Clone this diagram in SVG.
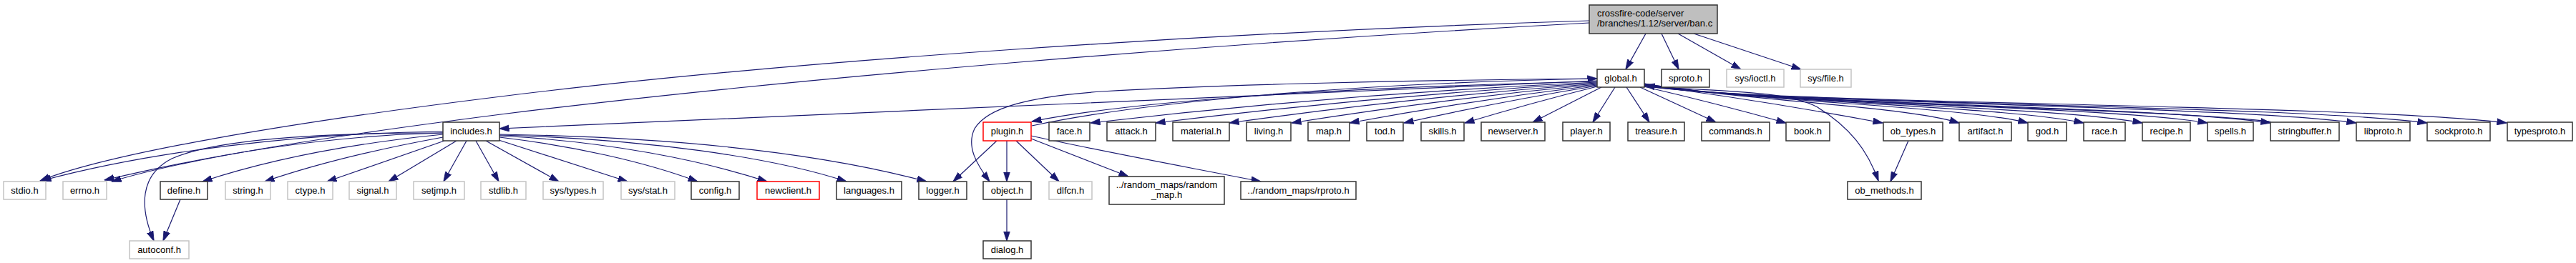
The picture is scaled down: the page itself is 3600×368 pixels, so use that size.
<svg xmlns="http://www.w3.org/2000/svg" width="3600" height="368" viewBox="0 0 3600 368">
<style>
.e{fill:none;stroke:#191970;stroke-width:1.2;marker-end:url(#ah)}
.n rect{fill:#fff;stroke:#333;stroke-width:1.5}
.g rect{fill:#fff;stroke:#c4c4c4;stroke-width:1.5}
.r rect{fill:#fff;stroke:#ff0000;stroke-width:1.5}
.m rect{fill:#bfbfbf;stroke:#333;stroke-width:1.5}
text{font-family:"Liberation Sans",Arial,Helvetica,sans-serif;font-size:13px;fill:#000;text-anchor:middle}
.m text{text-anchor:start}
</style>
<defs>
<marker id="ah" viewBox="0 0 14 10" refX="13.5" refY="5" markerWidth="14" markerHeight="10" markerUnits="userSpaceOnUse" orient="auto">
<path d="M0,0.5 L14,5 L0,9.5 z" fill="#191970" stroke="#191970" stroke-width="0.8"/>
</marker>
</defs>
<rect width="3600" height="368" fill="#fff"/>
<g id="edges">
<!-- main -->
<path class="e" d="M2300,47 L2272,97"/>
<path class="e" d="M2322,47 L2346,97"/>
<path class="e" d="M2345,47 L2433,97"/>
<path class="e" d="M2367,47 L2517,97"/>
<path class="e" d="M2221,29 C1700,45 1100,85 700,135 C400,172 150,215 56,253"/>
<path class="e" d="M2221,32 C1700,60 1100,110 700,160 C450,192 260,222 156,254"/>
<!-- includes.h -->
<path class="e" d="M619,184 C420,186 210,212 58,253"/>
<path class="e" d="M619,186 C450,190 300,216 146,252"/>
<path class="e" d="M619,186 C450,186 300,195 240,222 C195,245 195,290 215,337"/>
<path class="e" d="M619,188 C500,200 380,222 283,254"/>
<path class="e" d="M619,192 C520,210 440,230 370,254"/>
<path class="e" d="M621,197 L457,254"/>
<path class="e" d="M638,197 L543,254"/>
<path class="e" d="M652,197 L620,254"/>
<path class="e" d="M665,197 L697,254"/>
<path class="e" d="M679,197 L781,254"/>
<path class="e" d="M697,196 L877,254"/>
<path class="e" d="M698,192 C800,204 900,226 975,254"/>
<path class="e" d="M698,190 C850,198 980,224 1072,254"/>
<path class="e" d="M698,189 C900,194 1080,220 1183,254"/>
<path class="e" d="M698,188 C950,192 1150,215 1295,254"/>
<path class="e" d="M252,279 L228,337"/>
<!-- global.h left -->
<path class="e" d="M2232,113 C1800,128 1200,160 698,180"/>
<path class="e" d="M2232,110 C2000,112 1700,118 1540,128 C1440,135 1380,150 1362,180 C1350,205 1365,230 1383,254"/>
<path class="e" d="M2232,114 C1900,122 1600,138 1442,170"/>
<path class="e" d="M1442,176 C1600,142 1900,116 2232,110"/>
<path class="e" d="M2232,115 Q1878,131 1524,172"/>
<path class="e" d="M2232,116 Q1923,134 1615,172"/>
<path class="e" d="M2232,117 Q1975,136 1718,172"/>
<path class="e" d="M2232,118 Q2018,138 1805,172"/>
<path class="e" d="M2232,119 Q2059,140 1886,172"/>
<path class="e" d="M2232,120 Q2097,142 1962,172"/>
<path class="e" d="M2232,121 Q2140,144 2047,172"/>
<path class="e" d="M2238,122 L2142,171"/>
<path class="e" d="M2257,122 L2226,171"/>
<!-- global.h right -->
<path class="e" d="M2273,122 L2305,171"/>
<path class="e" d="M2292,122 L2398,171"/>
<path class="e" d="M2297,121 Q2400,145 2496,172"/>
<path class="e" d="M2298,119 Q2460,140 2631,172"/>
<path class="e" d="M2298,121 C2420,128 2500,128 2540,150 C2585,178 2610,210 2625,253"/>
<path class="e" d="M2298,117 C2450,142 2659,148 2738,172"/>
<path class="e" d="M2298,117 C2450,143 2738,148 2834,172"/>
<path class="e" d="M2298,118 C2450,143 2801,148 2912,172"/>
<path class="e" d="M2298,118 C2450,144 2869,148 2994,172"/>
<path class="e" d="M2298,118 C2450,144 2943,148 3085,172"/>
<path class="e" d="M2298,119 C2450,145 3015,148 3173,172"/>
<path class="e" d="M2298,119 C2450,145 3114,147 3293,172"/>
<path class="e" d="M2298,120 C2450,146 3195,146 3392,172"/>
<path class="e" d="M2298,120 C2450,146 3286,145 3503,172"/>
<path class="e" d="M3173,170 C3000,150 2450,146 2299,119"/>
<!-- plugin.h -->
<path class="e" d="M1393,197 L1332,254"/>
<path class="e" d="M1407,197 L1407,254"/>
<path class="e" d="M1420,197 L1480,254"/>
<path class="e" d="M1441,194 L1577,247"/>
<path class="e" d="M1441,190 C1550,214 1650,232 1762,254"/>
<!-- others -->
<path class="e" d="M1407,279 L1407,337"/>
<path class="e" d="M2667,197 L2642,254"/>
</g>

<g id="n_main" class="m"><rect x="2221" y="7" width="179" height="40"/><text x="2232" y="23">crossfire-code/server</text><text x="2232" y="37">/branches/1.12/server/ban.c</text></g>

<g id="n_global" class="n"><rect x="2232" y="97" width="66" height="25"/><text x="2265" y="114">global.h</text></g>
<g id="n_sproto" class="n"><rect x="2322" y="97" width="67" height="25"/><text x="2355.5" y="114">sproto.h</text></g>
<g id="n_ioctl" class="g"><rect x="2413" y="97" width="80" height="25"/><text x="2453" y="114">sys/ioctl.h</text></g>
<g id="n_file" class="g"><rect x="2516" y="97" width="71" height="25"/><text x="2551.5" y="114">sys/file.h</text></g>

<g id="n_includes" class="n"><rect x="619" y="171" width="79" height="26"/><text x="658.5" y="188">includes.h</text></g>
<g id="n_plugin" class="r"><rect x="1374" y="171" width="67" height="26"/><text x="1407.5" y="188">plugin.h</text></g>
<g id="n_face" class="n"><rect x="1466" y="171" width="57" height="26"/><text x="1494.5" y="188">face.h</text></g>
<g id="n_attack" class="n"><rect x="1547" y="171" width="68" height="26"/><text x="1581" y="188">attack.h</text></g>
<g id="n_material" class="n"><rect x="1639" y="171" width="79" height="26"/><text x="1678.5" y="188">material.h</text></g>
<g id="n_living" class="n"><rect x="1742" y="171" width="62" height="26"/><text x="1773" y="188">living.h</text></g>
<g id="n_map" class="n"><rect x="1828" y="171" width="58" height="26"/><text x="1857" y="188">map.h</text></g>
<g id="n_tod" class="n"><rect x="1910" y="171" width="51" height="26"/><text x="1935.5" y="188">tod.h</text></g>
<g id="n_skills" class="n"><rect x="1986" y="171" width="60" height="26"/><text x="2016" y="188">skills.h</text></g>
<g id="n_newserver" class="n"><rect x="2070" y="171" width="89" height="26"/><text x="2114.5" y="188">newserver.h</text></g>
<g id="n_player" class="n"><rect x="2184" y="171" width="66" height="26"/><text x="2217" y="188">player.h</text></g>
<g id="n_treasure" class="n"><rect x="2275" y="171" width="79" height="26"/><text x="2314.5" y="188">treasure.h</text></g>
<g id="n_commands" class="n"><rect x="2378" y="171" width="95" height="26"/><text x="2425.5" y="188">commands.h</text></g>
<g id="n_book" class="n"><rect x="2496" y="171" width="61" height="26"/><text x="2526.5" y="188">book.h</text></g>
<g id="n_ob_types" class="n"><rect x="2632" y="171" width="83" height="26"/><text x="2673.5" y="188">ob_types.h</text></g>
<g id="n_artifact" class="n"><rect x="2738" y="171" width="73" height="26"/><text x="2774.5" y="188">artifact.h</text></g>
<g id="n_god" class="n"><rect x="2834" y="171" width="54" height="26"/><text x="2861" y="188">god.h</text></g>
<g id="n_race" class="n"><rect x="2912" y="171" width="58" height="26"/><text x="2941" y="188">race.h</text></g>
<g id="n_recipe" class="n"><rect x="2994" y="171" width="67" height="26"/><text x="3027.5" y="188">recipe.h</text></g>
<g id="n_spells" class="n"><rect x="3085" y="171" width="64" height="26"/><text x="3117" y="188">spells.h</text></g>
<g id="n_stringbuffer" class="n"><rect x="3173" y="171" width="96" height="26"/><text x="3221" y="188">stringbuffer.h</text></g>
<g id="n_libproto" class="n"><rect x="3293" y="171" width="75" height="26"/><text x="3330.5" y="188">libproto.h</text></g>
<g id="n_sockproto" class="n"><rect x="3392" y="171" width="88" height="26"/><text x="3436" y="188">sockproto.h</text></g>
<g id="n_typesproto" class="n"><rect x="3504" y="171" width="91" height="26"/><text x="3549.5" y="188">typesproto.h</text></g>

<g id="n_stdio" class="g"><rect x="5" y="254" width="59" height="25"/><text x="34.5" y="271">stdio.h</text></g>
<g id="n_errno" class="g"><rect x="88" y="254" width="61" height="25"/><text x="118.5" y="271">errno.h</text></g>
<g id="n_define" class="n"><rect x="224" y="254" width="66" height="25"/><text x="257" y="271">define.h</text></g>
<g id="n_string" class="g"><rect x="315" y="254" width="63" height="25"/><text x="346.5" y="271">string.h</text></g>
<g id="n_ctype" class="g"><rect x="402" y="254" width="63" height="25"/><text x="433.5" y="271">ctype.h</text></g>
<g id="n_signal" class="g"><rect x="488" y="254" width="66" height="25"/><text x="521" y="271">signal.h</text></g>
<g id="n_setjmp" class="g"><rect x="578" y="254" width="71" height="25"/><text x="613.5" y="271">setjmp.h</text></g>
<g id="n_stdlib" class="g"><rect x="672" y="254" width="63" height="25"/><text x="703.5" y="271">stdlib.h</text></g>
<g id="n_systypes" class="g"><rect x="759" y="254" width="84" height="25"/><text x="801" y="271">sys/types.h</text></g>
<g id="n_sysstat" class="g"><rect x="868" y="254" width="75" height="25"/><text x="905.5" y="271">sys/stat.h</text></g>
<g id="n_config" class="n"><rect x="966" y="254" width="67" height="25"/><text x="999.5" y="271">config.h</text></g>
<g id="n_newclient" class="r"><rect x="1058" y="254" width="87" height="25"/><text x="1101.5" y="271">newclient.h</text></g>
<g id="n_languages" class="n"><rect x="1169" y="254" width="91" height="25"/><text x="1214.5" y="271">languages.h</text></g>
<g id="n_logger" class="n"><rect x="1284" y="254" width="67" height="25"/><text x="1317.5" y="271">logger.h</text></g>
<g id="n_object" class="n"><rect x="1374" y="254" width="67" height="25"/><text x="1407.5" y="271">object.h</text></g>
<g id="n_dlfcn" class="g"><rect x="1466" y="254" width="60" height="25"/><text x="1496" y="271">dlfcn.h</text></g>
<g id="n_random_map" class="n"><rect x="1550" y="247" width="161" height="39"/><text x="1630.5" y="263">../random_maps/random</text><text x="1630.5" y="277">_map.h</text></g>
<g id="n_rproto" class="n"><rect x="1734" y="254" width="161" height="25"/><text x="1814.5" y="271">../random_maps/rproto.h</text></g>
<g id="n_ob_methods" class="n"><rect x="2582" y="254" width="103" height="25"/><text x="2633.5" y="271">ob_methods.h</text></g>

<g id="n_autoconf" class="g"><rect x="181" y="337" width="83" height="25"/><text x="222.5" y="354">autoconf.h</text></g>
<g id="n_dialog" class="n"><rect x="1374" y="337" width="67" height="25"/><text x="1407.5" y="354">dialog.h</text></g>
</svg>
